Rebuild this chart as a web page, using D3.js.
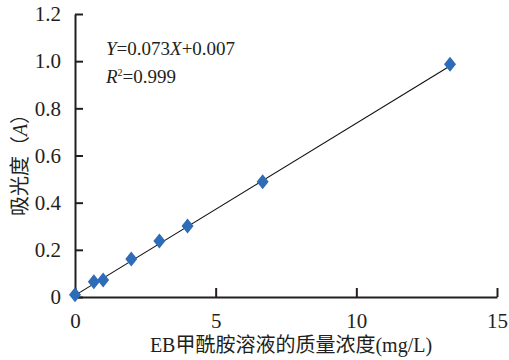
<!DOCTYPE html>
<html>
<head>
<meta charset="utf-8">
<script src="https://cdn.jsdelivr.net/npm/d3@7"></script>
<style>
  body { margin: 0; background: #fff; }
  text { font-family: "Liberation Serif", "Noto Sans CJK SC", serif; fill: #231f20; }
</style>
</head>
<body>
<svg id="chart" width="509" height="360"></svg>
<script>
var concX = [0, 0.67, 1, 2, 3, 4, 6.67, 13.33]
var absY = [0.01, 0.065, 0.072, 0.161, 0.237, 0.301, 0.489, 0.987]
var xTicks = [0, 5, 10, 15]
var yTicks = [0, 0.2, 0.4, 0.6, 0.8, 1.0, 1.2]
var slope = 0.073, intercept = 0.007

var svg = d3.select('#chart')

var x = d3.scaleLinear()
    .domain([0, 15])
    .range([75, 497]);

var y = d3.scaleLinear()
    .domain([0, 1.2])
    .range([297, 14]);

var xAxis = d3.axisBottom(x)
    .tickValues(xTicks)
    .tickSizeInner(-9)
    .tickSizeOuter(0)
    .tickPadding(16)
    .tickFormat(d3.format('d'));

var yAxis = d3.axisLeft(y)
    .tickValues(yTicks)
    .tickSizeInner(-8)
    .tickSizeOuter(0)
    .tickPadding(14)
    .tickFormat(function (d) { return d === 0 ? '0' : d3.format('.1f')(d) });

var gx = svg.append('g')
    .attr('transform', 'translate(0,' + y(0) + ')')
    .call(xAxis);

var gy = svg.append('g')
    .attr('transform', 'translate(' + x(0) + ',0)')
    .call(yAxis);

[gx, gy].forEach(function (g) {
    g.attr('font-family', null).attr('font-size', null)
    g.selectAll('path, line').attr('stroke', '#231f20').attr('stroke-width', 2)
    g.selectAll('text').style('font-size', '21px').attr('fill', '#231f20')
        .style('font-family', '"Liberation Serif", "Times New Roman", serif')
})

// fitted line
svg.append('line')
    .attr('x1', x(0))
    .attr('y1', y(intercept))
    .attr('x2', x(13.4))
    .attr('y2', y(slope * 13.4 + intercept))
    .attr('stroke', '#111')
    .attr('stroke-width', 1.1)

// diamond markers
svg.selectAll('.pt')
    .data(concX)
    .enter()
    .append('path')
    .attr('class', 'pt')
    .attr('d', 'M0,-7.5L6,0L0,7.5L-6,0Z')
    .attr('transform', function (d, i) { return 'translate(' + x(d) + ',' + y(absY[i]) + ')' })
    .attr('fill', '#2f6cb8')

// equation
var eq = svg.append('text')
    .attr('x', 106)
    .attr('y', 55)
    .style('font-size', '19px')
eq.append('tspan').style('font-style', 'italic').text('Y')
eq.append('tspan').text('=0.073')
eq.append('tspan').style('font-style', 'italic').text('X')
eq.append('tspan').text('+0.007')

var r2 = svg.append('text')
    .attr('x', 106)
    .attr('y', 83)
    .style('font-size', '19px')
r2.append('tspan').style('font-style', 'italic').text('R')
r2.append('tspan').attr('dy', -7).style('font-size', '10px').text('2')
r2.append('tspan').attr('dy', 7).text('=0.999')

// axis titles
svg.append('text')
    .attr('x', 291)
    .attr('y', 352)
    .attr('text-anchor', 'middle')
    .style('font-size', '20px')
    .text('EB甲酰胺溶液的质量浓度(mg/L)')

var yl = svg.append('text')
    .attr('transform', 'translate(27,160) rotate(-90)')
    .attr('text-anchor', 'middle')
    .style('font-size', '20px')
yl.append('tspan').text('吸光度（')
yl.append('tspan').style('font-style', 'italic').text('A')
yl.append('tspan').text('）')
</script>
</body>
</html>
